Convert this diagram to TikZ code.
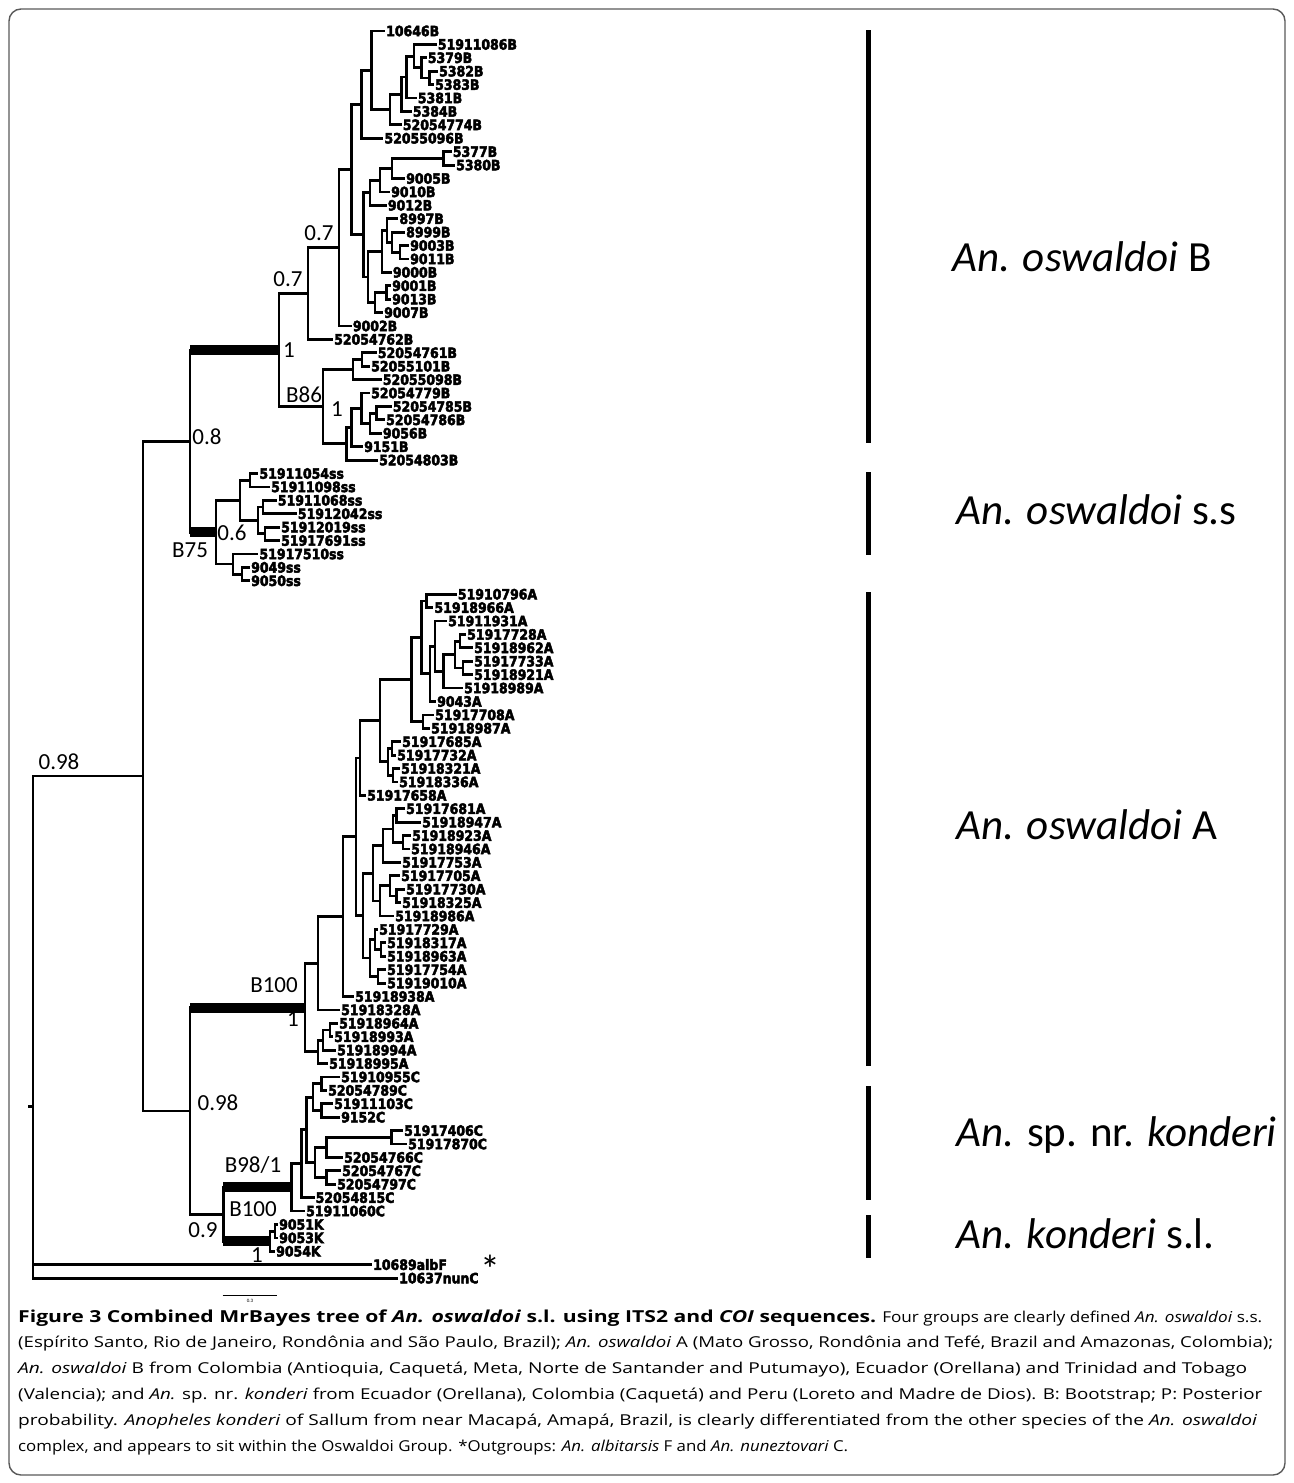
\documentclass[tikz,border=0pt]{standalone}
\usepackage{fontspec}
\usepackage{graphicx}
\setmainfont{Carlito}
\newfontfamily\leaffont{DejaVu Sans}[BoldFeatures={FakeBold=3.5}]
\newfontfamily\capfont{Open Sans}
\usetikzlibrary{calc}

\newcommand\leafnode[4]{\node[leaf] (#1) at (#2,{31+13.41*#3}) {\scalebox{0.88}[1]{#4}};}
\newcommand\cladenode[4]{%
  \path let \p1=(#3), \p2=(#4) in coordinate (#1) at (#2pt,{0.5*\y1+0.5*\y2});
  \draw[branch] (#1) |- (#3);
  \draw[branch] (#1) |- (#4);}

\begin{document}
\begin{tikzpicture}[x=1pt,y=-1pt]
  \tikzstyle{branch}=[line width=2.8pt]
  \tikzstyle{bar}=[line width=10pt]
  \tikzstyle{leaf}=[anchor=west,inner sep=1pt,font=\leaffont\bfseries\fontsize{14.2}{14}\selectfont,text height=10.3pt,text depth=0pt]
  \tikzstyle{supp}=[inner sep=0pt,font=\fontsize{23}{23}\selectfont]
  \tikzstyle{grp}=[line width=5pt]
  \tikzstyle{grouplab}=[anchor=west,inner sep=0pt,font=\fontsize{43}{43}\selectfont]
  \tikzstyle{capline}=[anchor=west,inner sep=0pt,font=\capfont\fontsize{15}{15}\selectfont]
  \useasboundingbox (0,0) rectangle (1293,1483);
  \draw[rounded corners=12pt,line width=1.4pt,black!65] (9,9) rectangle (1285,1475);

  \leafnode{b1}{385}{0}{10646B}
  \leafnode{b2}{436.7}{1}{51911086B}
  \leafnode{b3}{426.7}{2}{5379B}
  \leafnode{b4}{438}{3}{5382B}
  \leafnode{b5}{434}{4}{5383B}
  \leafnode{b6}{416.7}{5}{5381B}
  \leafnode{b7}{411.7}{6}{5384B}
  \leafnode{b8}{401.7}{7}{52054774B}
  \leafnode{b9}{383.3}{8}{52055096B}
  \leafnode{b10}{451.7}{9}{5377B}
  \leafnode{b11}{455}{10}{5380B}
  \leafnode{b12}{405}{11}{9005B}
  \leafnode{b13}{390}{12}{9010B}
  \leafnode{b14}{386.7}{13}{9012B}
  \leafnode{b15}{398.3}{14}{8997B}
  \leafnode{b16}{405}{15}{8999B}
  \leafnode{b17}{409}{16}{9003B}
  \leafnode{b18}{409}{17}{9011B}
  \leafnode{b19}{391.7}{18}{9000B}
  \leafnode{b20}{391}{19}{9001B}
  \leafnode{b21}{391}{20}{9013B}
  \leafnode{b22}{383}{21}{9007B}
  \leafnode{b23}{351.7}{22}{9002B}
  \leafnode{b24}{333}{23}{52054762B}
  \leafnode{b25}{376.7}{24}{52054761B}
  \leafnode{b26}{370}{25}{52055101B}
  \leafnode{b27}{381.7}{26}{52055098B}
  \leafnode{b28}{370}{27}{52054779B}
  \leafnode{b29}{391.7}{28}{52054785B}
  \leafnode{b30}{385}{29}{52054786B}
  \leafnode{b31}{381.7}{30}{9056B}
  \leafnode{b32}{363}{31}{9151B}
  \leafnode{b33}{378}{32}{52054803B}

  \leafnode{s1}{258.3}{33}{51911054ss}
  \leafnode{s2}{270}{34}{51911098ss}
  \leafnode{s3}{276.7}{35}{51911068ss}
  \leafnode{s4}{296.7}{36}{51912042ss}
  \leafnode{s5}{280}{37}{51912019ss}
  \leafnode{s6}{280}{38}{51917691ss}
  \leafnode{s7}{258.3}{39}{51917510ss}
  \leafnode{s8}{250}{40}{9049ss}
  \leafnode{s9}{250}{41}{9050ss}

  \leafnode{a1}{456.7}{42}{51910796A}
  \leafnode{a2}{433.3}{43}{51918966A}
  \leafnode{a3}{447}{44}{51911931A}
  \leafnode{a4}{466}{45}{51917728A}
  \leafnode{a5}{473}{46}{51918962A}
  \leafnode{a6}{473}{47}{51917733A}
  \leafnode{a7}{473}{48}{51918921A}
  \leafnode{a8}{463}{49}{51918989A}
  \leafnode{a9}{436}{50}{9043A}
  \leafnode{a10}{434}{51}{51917708A}
  \leafnode{a11}{430}{52}{51918987A}
  \leafnode{a12}{401}{53}{51917685A}
  \leafnode{a13}{396}{54}{51917732A}
  \leafnode{a14}{400}{55}{51918321A}
  \leafnode{a15}{398}{56}{51918336A}
  \leafnode{a16}{366}{57}{51917658A}
  \leafnode{a17}{405}{58}{51917681A}
  \leafnode{a18}{421}{59}{51918947A}
  \leafnode{a19}{411}{60}{51918923A}
  \leafnode{a20}{410}{61}{51918946A}
  \leafnode{a21}{401}{62}{51917753A}
  \leafnode{a22}{400}{63}{51917705A}
  \leafnode{a23}{405}{64}{51917730A}
  \leafnode{a24}{401}{65}{51918325A}
  \leafnode{a25}{394}{66}{51918986A}
  \leafnode{a26}{378}{67}{51917729A}
  \leafnode{a27}{386}{68}{51918317A}
  \leafnode{a28}{386}{69}{51918963A}
  \leafnode{a29}{386}{70}{51917754A}
  \leafnode{a30}{386}{71}{51919010A}
  \leafnode{a31}{354}{72}{51918938A}
  \leafnode{a32}{340}{73}{51918328A}
  \leafnode{a33}{338}{74}{51918964A}
  \leafnode{a34}{333}{75}{51918993A}
  \leafnode{a35}{336}{76}{51918994A}
  \leafnode{a36}{328}{77}{51918995A}

  \leafnode{c1}{340}{78}{51910955C}
  \leafnode{c2}{327}{79}{52054789C}
  \leafnode{c3}{333}{80}{51911103C}
  \leafnode{c4}{340}{81}{9152C}
  \leafnode{c5}{403}{82}{51917406C}
  \leafnode{c6}{407}{83}{51917870C}
  \leafnode{c7}{343}{84}{52054766C}
  \leafnode{c8}{341}{85}{52054767C}
  \leafnode{c9}{336}{86}{52054797C}
  \leafnode{c10}{314.5}{87}{52054815C}
  \leafnode{c11}{305}{88}{51911060C}
  \leafnode{k1}{278}{89}{9051K}
  \leafnode{k2}{278}{90}{9053K}
  \leafnode{k3}{275}{91}{9054K}
  \leafnode{o1}{372}{92}{10689albF}
  \leafnode{o2}{398}{93}{10637nunC}

  \cladenode{cb1}{429.3}{b4}{b5}
  \cladenode{cb2}{421.7}{b3}{cb1}
  \cladenode{cb3}{414}{b2}{cb2}
  \cladenode{cb4}{406.7}{cb3}{b6}
  \cladenode{cb5}{401.7}{cb4}{b7}
  \cladenode{cb6}{390}{cb5}{b8}
  \cladenode{cb7}{371.7}{b1}{cb6}
  \cladenode{cb8}{361.7}{cb7}{b9}
  \cladenode{cb9}{443.3}{b10}{b11}
  \cladenode{cb10}{392}{cb9}{b12}
  \cladenode{cb11}{380}{cb10}{b13}
  \cladenode{cb12}{370}{cb11}{b14}
  \cladenode{cb13}{400}{b17}{b18}
  \cladenode{cb14}{392}{b16}{cb13}
  \cladenode{cb15}{387}{b15}{cb14}
  \cladenode{cb16}{382}{cb15}{b19}
  \cladenode{cb17}{386.7}{b20}{b21}
  \cladenode{cb18}{375}{cb17}{b22}
  \cladenode{cb19}{368}{cb16}{cb18}
  \cladenode{cb20}{363.3}{cb12}{cb19}
  \cladenode{cb21}{351.7}{cb8}{cb20}
  \cladenode{cb22}{339}{cb21}{b23}
  \cladenode{cb23}{308}{cb22}{b24}
  \cladenode{cb24}{362}{b25}{b26}
  \cladenode{cb25}{353}{cb24}{b27}
  \cladenode{cb26}{376.7}{b29}{b30}
  \cladenode{cb27}{370}{cb26}{b31}
  \cladenode{cb28}{361.7}{b28}{cb27}
  \cladenode{cb29}{351.7}{cb28}{b32}
  \cladenode{cb30}{346.7}{cb29}{b33}
  \cladenode{cb31}{323}{cb25}{cb30}
  \cladenode{cB}{279}{cb23}{cb31}

  \cladenode{cs1}{250}{s1}{s2}
  \cladenode{cs2}{263}{s3}{s4}
  \cladenode{cs3}{265}{s5}{s6}
  \cladenode{cs4}{258}{cs2}{cs3}
  \cladenode{cs5}{240}{cs1}{cs4}
  \cladenode{cs6}{242}{s8}{s9}
  \cladenode{cs7}{233}{s7}{cs6}
  \cladenode{cS}{216}{cs5}{cs7}
  \cladenode{c08}{190}{cB}{cS}

  \cladenode{ca1}{426.7}{a1}{a2}
  \cladenode{ca2}{460}{a4}{a5}
  \cladenode{ca3}{463}{a6}{a7}
  \cladenode{ca4}{455}{ca2}{ca3}
  \cladenode{ca5}{443.3}{ca4}{a8}
  \cladenode{ca6}{435}{a3}{ca5}
  \cladenode{ca7}{430}{ca6}{a9}
  \cladenode{ca8}{421.7}{ca1}{ca7}
  \cladenode{ca9}{423}{a10}{a11}
  \cladenode{ca10}{411.7}{ca8}{ca9}
  \cladenode{ca11}{392}{a12}{a13}
  \cladenode{ca12}{393}{a14}{a15}
  \cladenode{ca13}{388}{ca11}{ca12}
  \cladenode{ca14}{380}{ca10}{ca13}
  \cladenode{ca15}{360}{ca14}{a16}
  \cladenode{ca16}{396.7}{a17}{a18}
  \cladenode{ca17}{403}{a19}{a20}
  \cladenode{ca18}{393}{ca16}{ca17}
  \cladenode{ca19}{383}{ca18}{a21}
  \cladenode{ca20}{396.7}{a23}{a24}
  \cladenode{ca21}{390}{a22}{ca20}
  \cladenode{ca22}{380}{ca21}{a25}
  \cladenode{ca23}{373}{ca19}{ca22}
  \cladenode{ca24}{381}{a27}{a28}
  \cladenode{ca25}{375}{a26}{ca24}
  \cladenode{ca26}{378}{a29}{a30}
  \cladenode{ca27}{370}{ca25}{ca26}
  \cladenode{ca28}{363}{ca23}{ca27}
  \cladenode{ca29}{356}{ca15}{ca28}
  \cladenode{ca30}{343}{ca29}{a31}
  \cladenode{ca31}{318}{ca30}{a32}
  \cladenode{ca32}{330}{a33}{a34}
  \cladenode{ca33}{323}{ca32}{a35}
  \cladenode{ca34}{318}{ca33}{a36}
  \cladenode{cA}{305}{ca31}{ca34}

  \cladenode{cc1}{321.7}{c1}{c2}
  \cladenode{cc2}{321.7}{c3}{c4}
  \cladenode{cc3}{313}{cc1}{cc2}
  \cladenode{cc4}{391.7}{c5}{c6}
  \cladenode{cc5}{326.7}{cc4}{c7}
  \cladenode{cc6}{326.7}{c8}{c9}
  \cladenode{cc7}{315}{cc5}{cc6}
  \cladenode{cc8}{306.7}{cc3}{cc7}
  \cladenode{cc9}{301.7}{cc8}{c10}
  \cladenode{cC}{291.7}{cc9}{c11}
  \cladenode{ck1}{275}{k1}{k2}
  \cladenode{cK}{270}{ck1}{k3}
  \cladenode{cCK}{223.3}{cC}{cK}
  \cladenode{cL}{190}{cA}{cCK}
  \cladenode{cI}{143}{c08}{cL}

  \path let \p1=(cI), \p2=(o1), \p3=(o2) in coordinate (root) at (33pt,{(\y1+\y2+\y3)/3});
  \draw[branch] (root) |- (cI);
  \draw[branch] (root) |- (o1);
  \draw[branch] (root) |- (o2);
  \draw[branch] (root) -- ++(-5,0);

  \draw[bar] (c08 |- cB) -- (cB);
  \draw[bar] (c08 |- cS) -- (cS);
  \draw[bar] (cL |- cA) -- (cA);
  \draw[bar] (cCK |- cC) -- (cC);
  \draw[bar] (cCK |- cK) -- (cK);

  \node[supp] (p07a) at (319,233) {0.7};
  \node[supp] (p07b) at (288,279) {0.7};
  \node[supp] (p1a) at (289,350) {1};
  \node[supp] (pB86) at (304,395) {B86};
  \node[supp] (p1b) at (337,409) {1};
  \node[supp] (p08) at (207,437) {0.8};
  \node[supp] (pB75) at (190,550) {B75};
  \node[supp] (p06) at (232,533) {0.6};
  \node[supp] (p098a) at (59,762) {0.98};
  \node[supp] (pB100a) at (274,985) {B100};
  \node[supp] (p1c) at (293,1019) {1};
  \node[supp] (p098b) at (218,1103) {0.98};
  \node[supp] (pB98) at (253,1165) {B98/1};
  \node[supp] (pB100b) at (253,1209) {B100};
  \node[supp] (p09) at (203,1230) {0.9};
  \node[supp] (p1d) at (257,1255) {1};
  \node[inner sep=0pt,font=\fontsize{40}{40}\selectfont] (ast) at (490,1269) {*};

  \draw[line width=1pt] (222.7,1295) -- (276.7,1295);
  \node[inner sep=0pt,font=\fontsize{5}{5}\selectfont] (sclab) at (250,1301) {0.3};

  \draw[grp] (868,30) -- (868,443);
  \draw[grp] (868,472) -- (868,555);
  \draw[grp] (868,592) -- (868,1066);
  \draw[grp] (868,1086) -- (868,1200);
  \draw[grp] (868,1215) -- (868,1258);
  \node[grouplab] (gB) at (952,257) {\textit{An. oswaldoi} B};
  \node[grouplab] (gS) at (956,510) {\textit{An. oswaldoi} s.s};
  \node[grouplab] (gA) at (956,825) {\textit{An. oswaldoi} A};
  \node[grouplab] (gC) at (956,1135) {\textit{An.} sp. nr. \textit{konderi}};
  \node[grouplab] (gK) at (956,1234) {\textit{An. konderi} s.l.};

  \node[capline] (cap1) at (18,1318) {\resizebox{858pt}{\height}{\bfseries\fontsize{16.5}{16.5}\selectfont Figure 3 Combined MrBayes tree of \textit{An. oswaldoi} s.l. using ITS2 and \textit{COI} sequences.}\hspace{6pt}\resizebox{380pt}{\height}{Four groups are clearly defined \textit{An. oswaldoi} s.s.}};
  \node[capline] (cap2) at (18,1344) {\resizebox{1255pt}{\height}{(Espírito Santo, Rio de Janeiro, Rondônia and São Paulo, Brazil); \textit{An. oswaldoi} A (Mato Grosso, Rondônia and Tefé, Brazil and Amazonas, Colombia);}};
  \node[capline] (cap3) at (18,1370) {\resizebox{1229pt}{\height}{\textit{An. oswaldoi} B from Colombia (Antioquia, Caquetá, Meta, Norte de Santander and Putumayo), Ecuador (Orellana) and Trinidad and Tobago}};
  \node[capline] (cap4) at (18,1396) {\resizebox{1244pt}{\height}{(Valencia); and \textit{An.} sp. nr. \textit{konderi} from Ecuador (Orellana), Colombia (Caquetá) and Peru (Loreto and Madre de Dios). B: Bootstrap; P: Posterior}};
  \node[capline] (cap5) at (18,1422) {\resizebox{1239pt}{\height}{probability. \textit{Anopheles konderi} of Sallum from near Macapá, Amapá, Brazil, is clearly differentiated from the other species of the \textit{An. oswaldoi}}};
  \node[capline] (cap6) at (18,1448) {\resizebox{830pt}{\height}{complex, and appears to sit within the Oswaldoi Group. *Outgroups: \textit{An. albitarsis} F and \textit{An. nuneztovari} C.}};
\end{tikzpicture}
\end{document}
